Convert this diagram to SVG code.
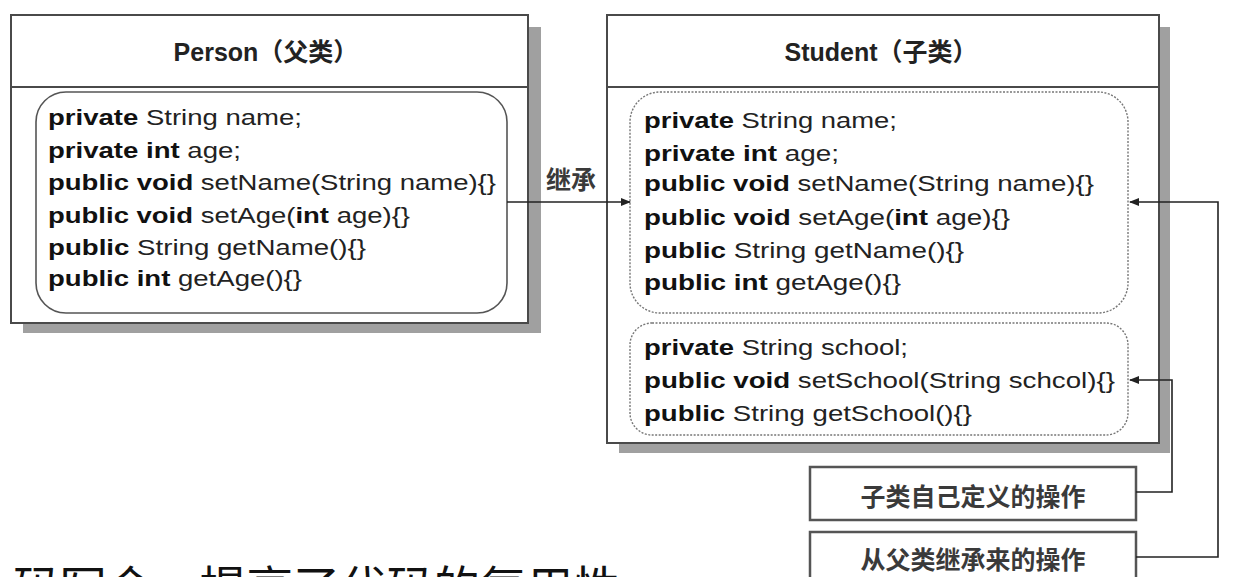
<svg xmlns="http://www.w3.org/2000/svg" width="1246" height="577" viewBox="0 0 1246 577">
<defs>
<style>
.box{fill:#fff;stroke:#4a4a4a;stroke-width:2}
.shadow{fill:#a0a0a0}
.inner{fill:#fff;stroke:#555;stroke-width:1.6}
.dash{fill:#fff;stroke:#777;stroke-width:1.4;stroke-dasharray:2 1.5}
.hdr{stroke:#4a4a4a;stroke-width:2}
.code{font-family:"Liberation Sans","Noto Sans CJK SC",sans-serif;font-size:22px;fill:#222}
.b{font-weight:bold;fill:#111}
.title{font-family:"Liberation Sans","Noto Sans CJK SC",sans-serif;font-size:25px;font-weight:bold;fill:#222;text-anchor:middle}
.lbl{font-family:"Noto Sans CJK SC",sans-serif;font-size:25px;fill:#3a3a3a;font-weight:bold;text-anchor:middle}
.sbox{fill:#fff;stroke:#555;stroke-width:2.5}
.conn{fill:none;stroke:#222;stroke-width:1.6}
.big{font-family:"Noto Sans CJK SC",sans-serif;font-size:46.7px;fill:#111}
</style>
<marker id="ah" markerWidth="10" markerHeight="8" refX="9" refY="4" orient="auto" markerUnits="userSpaceOnUse"><path d="M0,0 L10,4 L0,8 z" fill="#222"/></marker>
</defs>

<g id="person">
<rect class="shadow" x="23" y="27" width="518" height="306"/>
<rect class="box" x="11" y="15" width="517" height="308"/>
<line class="hdr" x1="11" y1="87" x2="528" y2="87"/>
<text class="title" x="266" y="61">Person（父类）</text>
<rect class="inner" x="36" y="92" width="471" height="221" rx="30"/>
<text class="code" x="48" y="125" textLength="254" lengthAdjust="spacingAndGlyphs"><tspan class="b">private</tspan> String name;</text>
<text class="code" x="48" y="158" textLength="193" lengthAdjust="spacingAndGlyphs"><tspan class="b">private int</tspan> age;</text>
<text class="code" x="48" y="190" textLength="448" lengthAdjust="spacingAndGlyphs"><tspan class="b">public void</tspan> setName(String name){}</text>
<text class="code" x="48" y="223" textLength="362" lengthAdjust="spacingAndGlyphs"><tspan class="b">public void</tspan> setAge(<tspan class="b">int</tspan> age){}</text>
<text class="code" x="48" y="255" textLength="318" lengthAdjust="spacingAndGlyphs"><tspan class="b">public</tspan> String getName(){}</text>
<text class="code" x="48" y="286" textLength="254" lengthAdjust="spacingAndGlyphs"><tspan class="b">public int</tspan> getAge(){}</text>
</g>

<g id="student">
<rect class="shadow" x="619" y="27" width="551" height="426"/>
<rect class="box" x="607" y="15" width="552" height="428"/>
<line class="hdr" x1="607" y1="87" x2="1159" y2="87"/>
<text class="title" x="881" y="61">Student（子类）</text>
<rect class="dash" x="630" y="92" width="498" height="221" rx="30"/>
<text class="code" x="644" y="128" textLength="253" lengthAdjust="spacingAndGlyphs"><tspan class="b">private</tspan> String name;</text>
<text class="code" x="644" y="161" textLength="195" lengthAdjust="spacingAndGlyphs"><tspan class="b">private int</tspan> age;</text>
<text class="code" x="644" y="191" textLength="450" lengthAdjust="spacingAndGlyphs"><tspan class="b">public void</tspan> setName(String name){}</text>
<text class="code" x="644" y="225" textLength="366" lengthAdjust="spacingAndGlyphs"><tspan class="b">public void</tspan> setAge(<tspan class="b">int</tspan> age){}</text>
<text class="code" x="644" y="258" textLength="320" lengthAdjust="spacingAndGlyphs"><tspan class="b">public</tspan> String getName(){}</text>
<text class="code" x="644" y="290" textLength="257" lengthAdjust="spacingAndGlyphs"><tspan class="b">public int</tspan> getAge(){}</text>
<rect class="dash" x="630" y="323" width="498" height="112" rx="22"/>
<text class="code" x="644" y="355" textLength="264" lengthAdjust="spacingAndGlyphs"><tspan class="b">private</tspan> String school;</text>
<text class="code" x="644" y="388" textLength="471" lengthAdjust="spacingAndGlyphs"><tspan class="b">public void</tspan> setSchool(String schcol){}</text>
<text class="code" x="644" y="421" textLength="328" lengthAdjust="spacingAndGlyphs"><tspan class="b">public</tspan> String getSchool(){}</text>
</g>

<g id="own-ops">
<rect class="sbox" x="810" y="467" width="326" height="53"/>
<text class="lbl" x="973" y="506">子类自己定义的操作</text>
</g>

<g id="inherited-ops">
<rect class="sbox" x="810" y="532" width="326" height="60"/>
<text class="lbl" x="973" y="569">从父类继承来的操作</text>
</g>

<g id="connectors">
<path class="conn" d="M507,202 H630" marker-end="url(#ah)"/>
<text class="lbl" x="571" y="189">继承</text>
<path class="conn" d="M1136,557 H1218 V202 H1130" marker-end="url(#ah)"/>
<path class="conn" d="M1136,492 H1172 V380 H1130" marker-end="url(#ah)"/>
</g>

<text class="big" x="13" y="605">码写会，提高了代码的复用性</text>
</svg>
